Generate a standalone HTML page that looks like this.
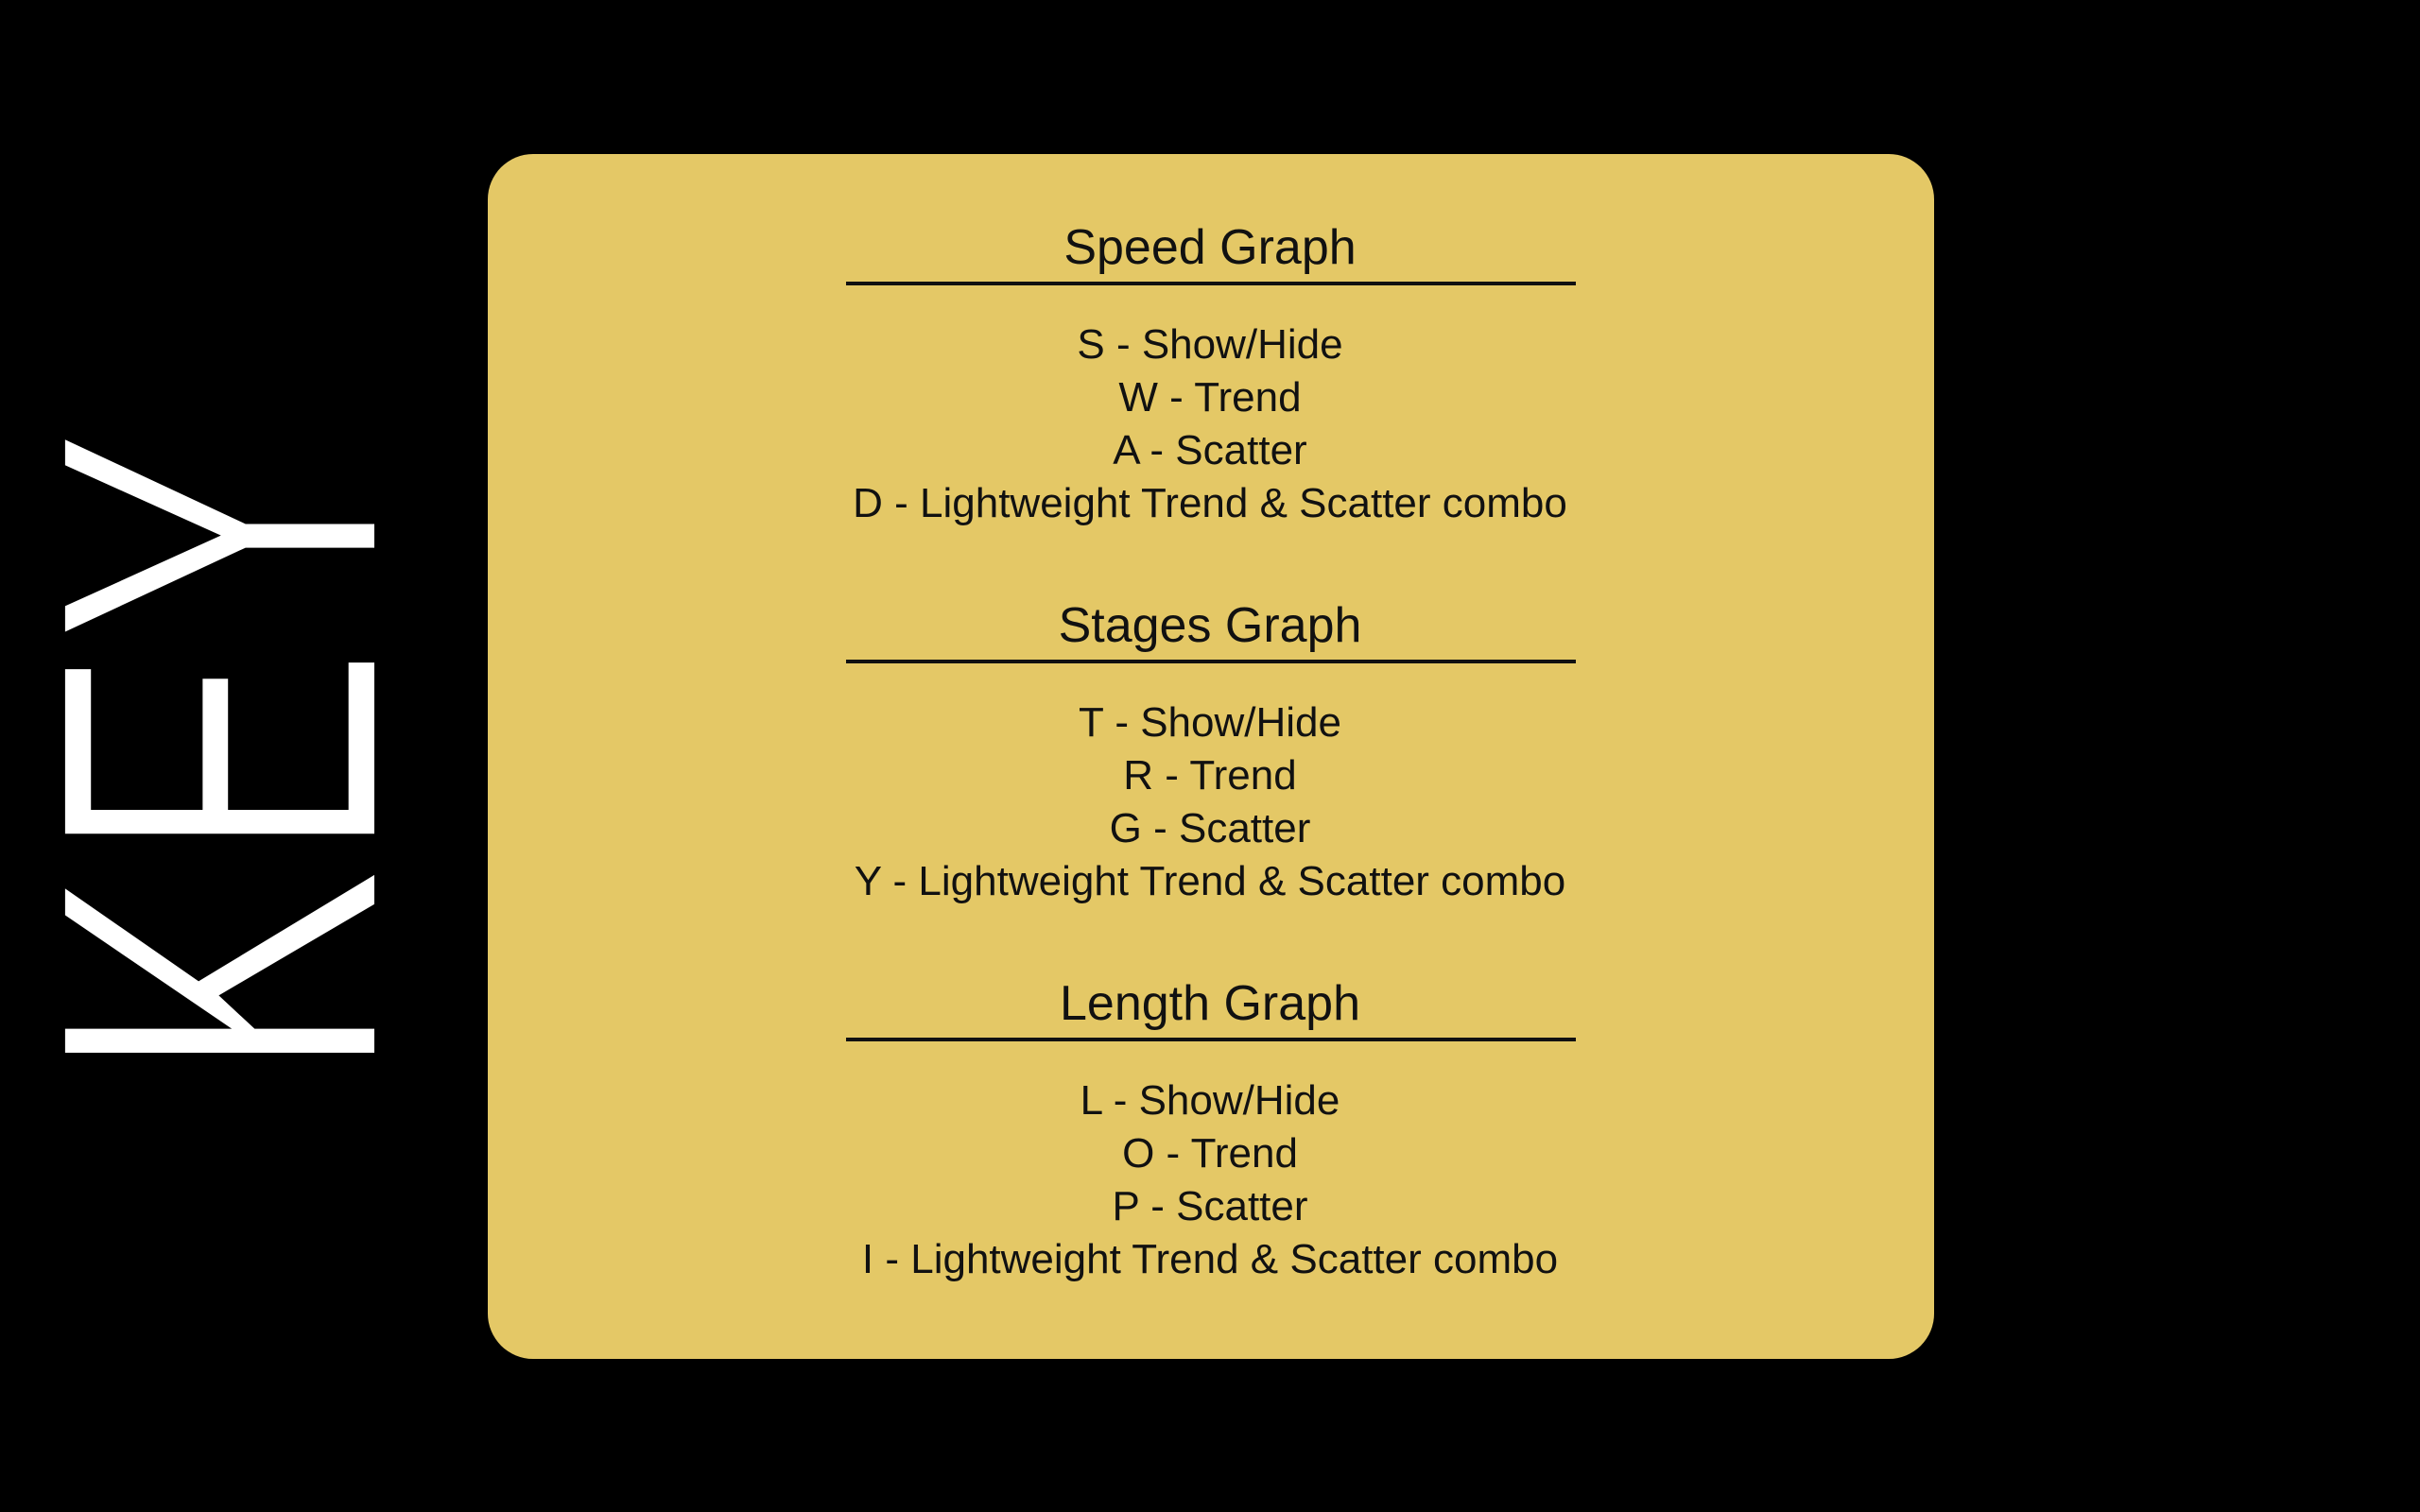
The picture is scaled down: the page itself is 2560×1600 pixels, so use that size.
<!DOCTYPE html>
<html><head><meta charset="utf-8"><style>
html,body{margin:0;padding:0;background:#000;width:2560px;height:1600px;overflow:hidden;font-family:"Liberation Sans",sans-serif}
#card{position:absolute;left:516px;top:163px;width:1530px;height:1275px;background:#e4c866;border-radius:48px}
.h{position:absolute;left:0;width:2560px;text-align:center;font-size:52px;color:#111;line-height:1}
.i{position:absolute;left:0;width:2560px;text-align:center;font-size:44px;color:#111;line-height:1}
.rule{position:absolute;left:895px;width:772px;height:4px;background:#111}
</style></head><body>
<svg style="position:absolute;left:0;top:0" width="520" height="1600">
<text x="0" y="0" transform="translate(401,1146) rotate(-90)" fill="#fff" stroke="#000" stroke-width="10" font-family="Liberation Sans, sans-serif" font-size="490" textLength="695" lengthAdjust="spacingAndGlyphs">KEY</text>
</svg>
<div id="card"></div>
<div id="content"></div>
<script>
const sections=[
 ["Speed Graph",["S - Show/Hide","W - Trend","A - Scatter","D - Lightweight Trend & Scatter combo"]],
 ["Stages Graph",["T - Show/Hide","R - Trend","G - Scatter","Y - Lightweight Trend & Scatter combo"]],
 ["Length Graph",["L - Show/Hide","O - Trend","P - Scatter","I - Lightweight Trend & Scatter combo"]]
];
const c=document.getElementById('content');
sections.forEach((s,k)=>{
 const off=k*400;
 const h=document.createElement('div');h.className='h';h.style.top=(236+off)+'px';h.textContent=s[0];
 
 
 c.appendChild(h);
 const r=document.createElement('div');r.className='rule';r.style.top=(298+off)+'px';
 
 
 c.appendChild(r);
 s[1].forEach((t,j)=>{
  const d=document.createElement('div');d.className='i';d.style.top=(343+off+j*56)+'px';d.textContent=t;
  
  
  c.appendChild(d);
 });
});
</script>
</body></html>
